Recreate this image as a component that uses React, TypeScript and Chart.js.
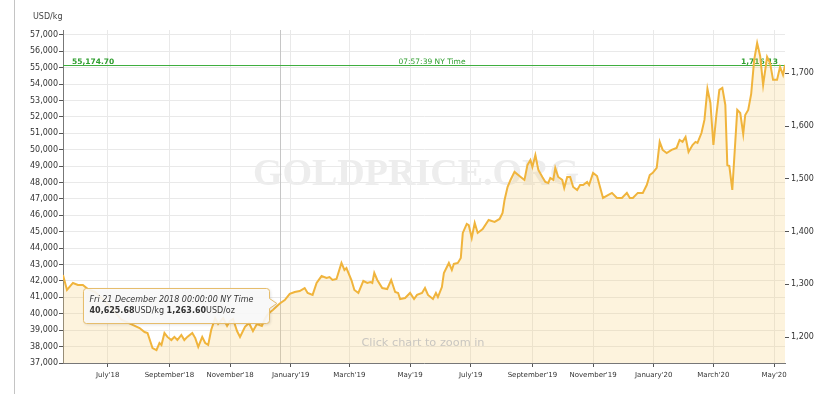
import React, { useEffect, useRef } from "react";
import { Chart, registerables } from "chart.js";

Chart.register(...registerables);

// ---------- data ----------
const dates = [
  "2018-05-17","2018-05-21","2018-05-27","2018-06-01","2018-06-06","2018-06-11","2018-06-18","2018-06-25","2018-07-02","2018-07-09",
  "2018-07-15","2018-07-20","2018-07-26","2018-08-02","2018-08-07","2018-08-10","2018-08-15","2018-08-19","2018-08-22","2018-08-24",
  "2018-08-27","2018-08-30","2018-09-03","2018-09-06","2018-09-09","2018-09-13","2018-09-16","2018-09-19","2018-09-24","2018-09-27",
  "2018-09-30","2018-10-04","2018-10-07","2018-10-10","2018-10-13","2018-10-17","2018-10-20","2018-10-25","2018-10-29","2018-11-01",
  "2018-11-04","2018-11-08","2018-11-11","2018-11-16","2018-11-20","2018-11-24","2018-11-28","2018-12-03","2018-12-06","2018-12-09",
  "2018-12-14","2018-12-21","2018-12-26","2018-12-31","2019-01-05","2019-01-10","2019-01-15","2019-01-18","2019-01-23","2019-01-27",
  "2019-02-01","2019-02-06","2019-02-09","2019-02-12","2019-02-16","2019-02-21","2019-02-24","2019-02-26","2019-03-03","2019-03-06",
  "2019-03-10","2019-03-15","2019-03-19","2019-03-22","2019-03-24","2019-03-26","2019-03-29","2019-04-03","2019-04-08","2019-04-12",
  "2019-04-16","2019-04-19","2019-04-21","2019-04-26","2019-05-01","2019-05-05","2019-05-08","2019-05-13","2019-05-16","2019-05-19",
  "2019-05-24","2019-05-27","2019-05-29","2019-06-02","2019-06-04","2019-06-09","2019-06-12","2019-06-14","2019-06-18","2019-06-21",
  "2019-06-23","2019-06-27","2019-06-29","2019-07-02","2019-07-05","2019-07-08","2019-07-13","2019-07-19","2019-07-25","2019-07-30",
  "2019-08-02","2019-08-04","2019-08-07","2019-08-10","2019-08-14","2019-08-19","2019-08-24","2019-08-27","2019-08-30","2019-09-01",
  "2019-09-04","2019-09-07","2019-09-11","2019-09-14","2019-09-17","2019-09-19","2019-09-22","2019-09-24","2019-09-27","2019-10-01",
  "2019-10-03","2019-10-06","2019-10-09","2019-10-12","2019-10-16","2019-10-19","2019-10-22","2019-10-26","2019-10-28","2019-11-01",
  "2019-11-05","2019-11-08","2019-11-11","2019-11-16","2019-11-20","2019-11-25","2019-11-30","2019-12-05","2019-12-08","2019-12-11",
  "2019-12-16","2019-12-21","2019-12-25","2019-12-28","2019-12-31","2020-01-04","2020-01-07","2020-01-10","2020-01-14","2020-01-19",
  "2020-01-24","2020-01-27","2020-01-30","2020-02-02","2020-02-05","2020-02-09","2020-02-12","2020-02-14","2020-02-18","2020-02-21",
  "2020-02-24","2020-02-27","2020-03-01","2020-03-04","2020-03-07","2020-03-10","2020-03-13","2020-03-15","2020-03-17","2020-03-20",
  "2020-03-25","2020-03-28","2020-03-31","2020-04-02","2020-04-05","2020-04-08","2020-04-11","2020-04-14","2020-04-17","2020-04-20",
  "2020-04-24","2020-04-27","2020-04-30","2020-05-04","2020-05-07","2020-05-10","2020-05-12",
];

const usdPerKg = [
  42370, 41450, 41880, 41760, 41760, 41510, 41330, 40960, 40540, 40050,
  39620, 39500, 39320, 39130, 38890, 38830, 37910, 37790, 38220, 38100,
  38830, 38590, 38400, 38590, 38400, 38710, 38400, 38590, 38830, 38520,
  37980, 38590, 38220, 38100, 39010, 39740, 39380, 39740, 39260, 39560,
  39680, 38950, 38590, 39200, 39440, 38950, 39380, 39260, 39680, 39990,
  40230, 40625.68, 40840, 41210, 41330, 41390, 41570, 41270, 41150, 41880,
  42300, 42180, 42240, 42060, 42120, 43100, 42670, 42790, 42060, 41450,
  41270, 42000, 41880, 41940, 41880, 42490, 42060, 41570, 41510, 42060,
  41330, 41270, 40900, 40960, 41270, 40900, 41150, 41270, 41570, 41150,
  40900, 41270, 41020, 41630, 42490, 43100, 42670, 43040, 43100, 43400,
  44930, 45480, 45410, 44620, 45540, 44930, 45170, 45720, 45600, 45780,
  46150, 46940, 47730, 48160, 48650, 48400, 48160, 49070, 49380, 48950,
  49680, 48770, 48340, 48040, 47980, 48280, 48160, 48890, 48340, 48160,
  47670, 48340, 48340, 47730, 47550, 47850, 47850, 48040, 47850, 48590,
  48400, 47730, 47060, 47240, 47370, 47060, 47060, 47370, 47060, 47060,
  47370, 47370, 47850, 48460, 48590, 48890, 50480, 49990, 49800, 49990,
  50110, 50600, 50480, 50780, 49870, 50290, 50480, 50420, 51020, 51820,
  53710, 52850, 50290, 52120, 53650, 53770, 52730, 49070, 49010, 47550,
  52430, 52240, 50960, 52120, 52430, 53400, 55480, 56510, 55720, 53950,
  55660, 55290, 54260, 54260, 55050, 54560, 55174.70,
];

const xTickMonths = [
  "2018-07", "2018-09", "2018-11", "2019-01", "2019-03", "2019-05",
  "2019-07", "2019-09", "2019-11", "2020-01", "2020-03", "2020-05",
];
const kgTicks = [37000, 38000, 39000, 40000, 41000, 42000, 43000, 44000, 45000, 46000, 47000,
  48000, 49000, 50000, 51000, 52000, 53000, 54000, 55000, 56000, 57000];
const ozTicks = [1200, 1300, 1400, 1500, 1600, 1700];

const currentPrice = 55174.70;
const currentTimeLabel = "07:57:39 NY Time";
const hoverDate = "2018-12-21";
const unitLabel = "USD/kg";
const watermark = "GOLDPRICE.ORG";
const zoomHint = "Click chart to zoom in";

const OZ_PER_KG = 32.1507;
const Y_MIN = 37000;
const Y_MAX = 57300;

const MONTHS = ["January","February","March","April","May","June","July","August","September","October","November","December"];
const WEEKDAYS = ["Sun","Mon","Tue","Wed","Thu","Fri","Sat"];

function dayNum(s: string): number {
  const [y, m, d] = s.split("-").map(Number);
  return Date.UTC(y, m - 1, d || 1) / 86400000;
}
function fmt(n: number, dec = 0): string {
  return n.toLocaleString("en-US", { minimumFractionDigits: dec, maximumFractionDigits: dec });
}
function monthLabel(s: string): string {
  const [y, m] = s.split("-").map(Number);
  return `${MONTHS[m - 1]}'${String(y).slice(2)}`;
}

const FONT = "'DejaVu Sans', sans-serif";

const decor = {
  id: "decor",
  beforeDraw(chart: any) {
    const ctx = chart.ctx;
    ctx.save();
    ctx.fillStyle = "#ffffff";
    ctx.fillRect(0, 0, chart.width, chart.height);
    ctx.strokeStyle = "#c4c4c4";
    ctx.lineWidth = 1;
    ctx.beginPath();
    ctx.moveTo(14.5, 0);
    ctx.lineTo(14.5, 394);
    ctx.stroke();
    ctx.fillStyle = "#444";
    ctx.font = `8px ${FONT}`;
    ctx.textBaseline = "alphabetic";
    ctx.textAlign = "left";
    ctx.fillText(unitLabel, 33, 19);
    ctx.restore();
  },
  beforeDatasetsDraw(chart: any) {
    const ctx = chart.ctx;
    const { left, right, top, bottom } = chart.chartArea;
    const xs = chart.scales.x;
    const ys = chart.scales.y;
    ctx.save();
    // watermark
    ctx.fillStyle = "#ededed";
    ctx.font = "bold 38px 'Liberation Serif', serif";
    ctx.textAlign = "center";
    ctx.textBaseline = "middle";
    ctx.fillText(watermark, 416, 175);
    // crosshair at hovered date
    const hx = Math.round(xs.getPixelForValue(dayNum(hoverDate))) + 0.5;
    ctx.strokeStyle = "#c6c6c6";
    ctx.lineWidth = 1;
    ctx.beginPath();
    ctx.moveTo(hx, top);
    ctx.lineTo(hx, bottom);
    ctx.stroke();
    // current price line
    const py = Math.round(ys.getPixelForValue(currentPrice)) + 0.5;
    ctx.strokeStyle = "#3fae3f";
    ctx.lineWidth = 1;
    ctx.beginPath();
    ctx.moveTo(left, py);
    ctx.lineTo(right, py);
    ctx.stroke();
    ctx.fillStyle = "#2f9e2f";
    ctx.textBaseline = "alphabetic";
    ctx.font = `bold 7.5px ${FONT}`;
    ctx.textAlign = "left";
    ctx.fillText(fmt(currentPrice, 2), left + 9, py - 1.5);
    ctx.textAlign = "right";
    ctx.fillText(fmt(currentPrice / OZ_PER_KG, 2), right - 7, py - 1.5);
    ctx.font = `7.5px ${FONT}`;
    ctx.textAlign = "center";
    ctx.fillText(currentTimeLabel, 432, py - 1.5);
    ctx.restore();
  },
  afterDatasetsDraw(chart: any) {
    const ctx = chart.ctx;
    const xs = chart.scales.x;
    const ys = chart.scales.y;
    ctx.save();
    // zoom hint
    ctx.fillStyle = "#c9c6c0";
    ctx.font = `11.3px ${FONT}`;
    ctx.textAlign = "center";
    ctx.textBaseline = "middle";
    ctx.fillText(zoomHint, 423, 343);

    // tooltip
    const idx = dates.indexOf(hoverDate);
    const val = usdPerKg[idx];
    const px = xs.getPixelForValue(dayNum(hoverDate));
    const py = ys.getPixelForValue(val);
    const bw = 186, bh = 35, r = 3;
    const bx = Math.round(px - 197) + 0.5;
    const by = Math.round(py - 16) + 0.5;
    const tipX = px - 3;
    ctx.beginPath();
    ctx.moveTo(bx + r, by);
    ctx.lineTo(bx + bw - r, by);
    ctx.arcTo(bx + bw, by, bx + bw, by + r, r);
    ctx.lineTo(bx + bw, py - 5);
    ctx.lineTo(tipX, py);
    ctx.lineTo(bx + bw, py + 5);
    ctx.lineTo(bx + bw, by + bh - r);
    ctx.arcTo(bx + bw, by + bh, bx + bw - r, by + bh, r);
    ctx.lineTo(bx + r, by + bh);
    ctx.arcTo(bx, by + bh, bx, by + bh - r, r);
    ctx.lineTo(bx, by + r);
    ctx.arcTo(bx, by, bx + r, by, r);
    ctx.closePath();
    ctx.shadowColor = "rgba(0,0,0,0.15)";
    ctx.shadowBlur = 3;
    ctx.shadowOffsetX = 1;
    ctx.shadowOffsetY = 1;
    ctx.fillStyle = "rgba(251,251,251,0.9)";
    ctx.fill();
    ctx.shadowColor = "transparent";
    ctx.strokeStyle = "#e6bd6c";
    ctx.lineWidth = 1;
    ctx.stroke();

    const [y, m, d] = hoverDate.split("-").map(Number);
    const wd = WEEKDAYS[new Date(Date.UTC(y, m - 1, d)).getUTCDay()];
    const line1 = `${wd} ${d} ${MONTHS[m - 1]} ${y} 00:00:00 NY Time`;
    ctx.fillStyle = "#333";
    ctx.textAlign = "left";
    ctx.textBaseline = "alphabetic";
    ctx.font = `italic 8px ${FONT}`;
    const tx = bx + 6;
    ctx.fillText(line1, tx, by + 13);
    const parts: [string, boolean][] = [
      [fmt(val, 2), true],
      ["USD/kg ", false],
      [fmt(val / OZ_PER_KG, 2), true],
      ["USD/oz", false],
    ];
    let cx = tx;
    for (const [txt, bold] of parts) {
      ctx.font = `${bold ? "bold " : ""}8px ${FONT}`;
      ctx.fillText(txt, cx, by + 24);
      cx += ctx.measureText(txt).width;
    }
    ctx.restore();
  },
};

export default function App() {
  const canvasRef = useRef<HTMLCanvasElement | null>(null);

  useEffect(() => {
    document.body.style.margin = "0";
    const canvas = canvasRef.current;
    if (!canvas) return;
    const points = dates.map((d, i) => ({ x: dayNum(d), y: usdPerKg[i] }));
    const chart = new Chart(canvas, {
      type: "line",
      data: {
        datasets: [
          {
            data: points,
            borderColor: "#f0b43c",
            borderWidth: 2,
            backgroundColor: "rgba(248,208,120,0.25)",
            fill: "start",
            pointRadius: 0,
            tension: 0,
            xAxisID: "x",
            yAxisID: "y",
          },
        ],
      },
      options: {
        responsive: false,
        animation: false,
        events: [],
        layout: { padding: { top: 30, left: 0, right: 0, bottom: 0 } },
        plugins: { legend: { display: false }, tooltip: { enabled: false } },
        scales: {
          x: {
            type: "linear",
            min: dayNum(dates[0]),
            max: dayNum(dates[dates.length - 1]),
            afterBuildTicks: (s: any) => {
              s.ticks = xTickMonths.map((mo) => ({ value: dayNum(mo + "-01") }));
            },
            afterFit: (s: any) => {
              s.height = 33;
            },
            ticks: {
              autoSkip: false,
              maxRotation: 0,
              padding: 4,
              color: "#333",
              font: { family: FONT, size: 7 },
              callback: (v: any) => {
                const mo = xTickMonths.find((m) => dayNum(m + "-01") === v);
                return mo ? monthLabel(mo) : "";
              },
            },
            grid: { color: "#e9e9e9", tickColor: "#555", tickLength: 4, lineWidth: 1 },
            border: { display: true, color: "#777", width: 1 },
          },
          y: {
            type: "linear",
            position: "left",
            min: Y_MIN,
            max: Y_MAX,
            afterBuildTicks: (s: any) => {
              s.ticks = kgTicks.map((v) => ({ value: v }));
            },
            afterFit: (s: any) => {
              s.width = 63;
            },
            ticks: {
              padding: 1,
              color: "#333",
              font: { family: FONT, size: 8 },
              callback: (v: any) => fmt(Number(v)),
            },
            grid: { color: "#e9e9e9", tickColor: "#555", tickLength: 4 },
            border: { display: true, color: "#777", width: 1 },
          },
          y2: {
            type: "linear",
            position: "right",
            min: Y_MIN / OZ_PER_KG,
            max: Y_MAX / OZ_PER_KG,
            afterBuildTicks: (s: any) => {
              s.ticks = ozTicks.map((v) => ({ value: v }));
            },
            afterFit: (s: any) => {
              s.width = 35;
            },
            ticks: {
              padding: 2,
              color: "#333",
              font: { family: FONT, size: 8 },
              callback: (v: any) => fmt(Number(v)),
            },
            grid: { drawOnChartArea: false, tickColor: "#555", tickLength: 4 },
            border: { display: false },
          },
        },
      },
      plugins: [decor],
    } as any);
    return () => chart.destroy();
  }, []);

  return (
    <div style={{ width: 820, height: 396 }}>
      <canvas ref={canvasRef} width={820} height={396} style={{ display: "block" }} />
    </div>
  );
}
